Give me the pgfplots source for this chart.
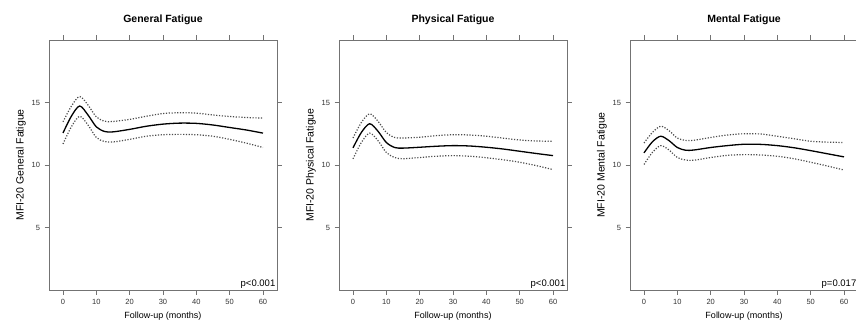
\documentclass[border=0pt]{standalone}
\usepackage{pgfplots}
\pgfplotsset{compat=1.18}
\usepackage{fontspec}
\setmainfont{Liberation Sans}
\definecolor{axgray}{gray}{0.45}

\pgfplotstableread{
m mean up lo
0   12.56 13.45 11.68
2.5 13.90 14.70 13.05
5   14.72 15.48 13.90
7.5 14.00 14.80 13.20
10  13.05 13.85 12.20
12.5 12.68 13.50 11.88
15  12.65 13.48 11.84
20  12.85 13.65 12.05
25  13.10 13.90 12.30
30  13.27 14.12 12.42
35  13.35 14.18 12.45
40  13.33 14.15 12.42
45  13.20 14.00 12.30
50  13.00 13.88 12.05
55  12.80 13.80 11.75
60  12.55 13.75 11.40
}\general

\pgfplotstableread{
m mean up lo
0   11.37 12.16 10.49
2.5 12.60 13.40 11.80
5   13.30 14.10 12.55
7.5 12.70 13.50 11.95
10  11.80 12.60 11.00
12.5 11.40 12.20 10.60
15  11.35 12.16 10.50
20  11.42 12.22 10.60
25  11.50 12.35 10.70
30  11.55 12.42 10.75
35  11.52 12.40 10.70
40  11.42 12.30 10.58
45  11.28 12.15 10.42
50  11.10 12.00 10.22
55  10.92 11.92 9.95
60  10.75 11.90 9.63
}\physical

\pgfplotstableread{
m mean up lo
0   10.97 11.76 10.04
2.5 11.85 12.60 11.00
5   12.30 13.10 11.55
7.5 11.95 12.75 11.20
10  11.40 12.15 10.60
12.5 11.18 11.97 10.40
15  11.20 11.98 10.38
20  11.40 12.20 10.60
25  11.55 12.40 10.77
30  11.66 12.50 10.83
35  11.65 12.48 10.80
40  11.55 12.30 10.70
45  11.38 12.10 10.50
50  11.15 11.90 10.22
55  10.90 11.83 9.92
60  10.65 11.80 9.60
}\mental

\pgfplotsset{
  panel/.style={
    scale only axis,
    width=228pt, height=250pt,
    anchor=south west,
    xmin=-4.2, xmax=64.2, ymin=0, ymax=20,
    xtick={0,10,...,60}, ytick={5,10,15},
    tick align=outside,
    major tick length=4.5pt,
    xtick pos=both, ytick pos=both,
    xticklabel pos=lower, yticklabel pos=left,
    axis line style={axgray, line width=0.8pt},
    every tick/.style={axgray, line width=0.6pt},
    tick label style={font=\fontsize{7.5}{8}\selectfont, text=black!80},
    xticklabel style={yshift=-1pt},
    yticklabel style={xshift=-1pt},
    xlabel style={font=\fontsize{9}{10}\selectfont, yshift=-1pt},
    ylabel style={font=\fontsize{10.5}{11}\selectfont, yshift=-1pt},
    title style={font=\bfseries\fontsize{10.5}{11}\selectfont, yshift=6pt},
    xlabel={Follow-up (months)},
    /pgf/number format/assume math mode=true,
  },
  meanline/.style={black, line width=1.3pt, smooth, no marks},
  ciline/.style={black!70, line width=1.2pt, smooth, no marks, dash pattern=on 1.2pt off 1.6pt},
}

\begin{document}
\begin{tikzpicture}
\useasboundingbox (0,0) rectangle (856pt,324pt);

\begin{axis}[panel, at={(49pt,34pt)}, title={General Fatigue}, ylabel={MFI-20 General Fatigue}]
\addplot[meanline] table[x=m,y=mean] {\general};
\addplot[ciline] table[x=m,y=up] {\general};
\addplot[ciline] table[x=m,y=lo] {\general};
\node[anchor=south east, font=\fontsize{9.5}{10}\selectfont, inner sep=1.5pt] at (rel axis cs:1,0) {p<0.001};
\end{axis}

\begin{axis}[panel, at={(339pt,34pt)}, title={Physical Fatigue}, ylabel={MFI-20 Physical Fatigue}]
\addplot[meanline] table[x=m,y=mean] {\physical};
\addplot[ciline] table[x=m,y=up] {\physical};
\addplot[ciline] table[x=m,y=lo] {\physical};
\node[anchor=south east, font=\fontsize{9.5}{10}\selectfont, inner sep=1.5pt] at (rel axis cs:1,0) {p<0.001};
\end{axis}

\begin{axis}[panel, at={(630pt,34pt)}, title={Mental Fatigue}, ylabel={MFI-20 Mental Fatigue}]
\addplot[meanline] table[x=m,y=mean] {\mental};
\addplot[ciline] table[x=m,y=up] {\mental};
\addplot[ciline] table[x=m,y=lo] {\mental};
\node[anchor=south east, font=\fontsize{9.5}{10}\selectfont, inner sep=1.5pt] at (rel axis cs:1,0) {p=0.017};
\end{axis}
\end{tikzpicture}
\end{document}
